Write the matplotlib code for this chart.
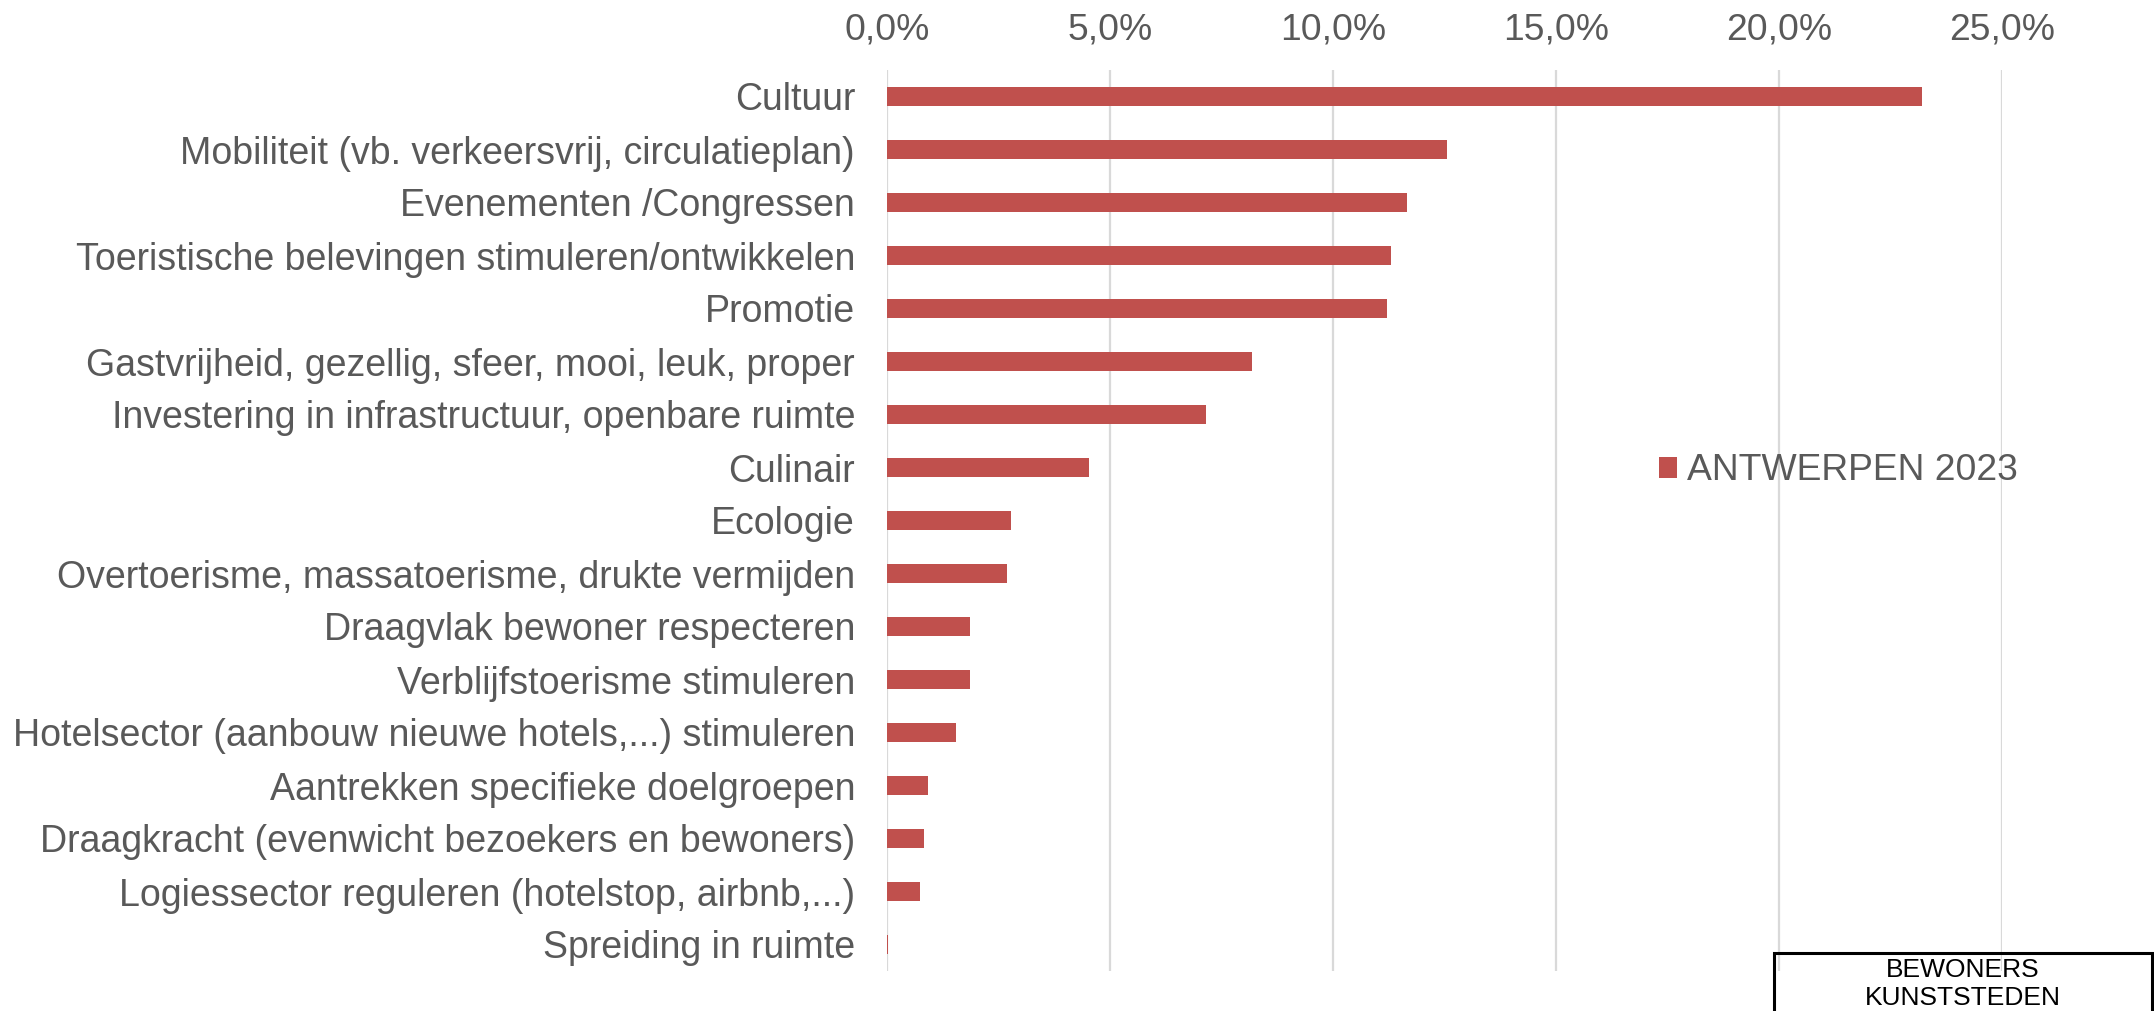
import matplotlib
import numpy as np
from matplotlib import pyplot as plt
from matplotlib.patches import Rectangle
from matplotlib.ticker import FuncFormatter

matplotlib.use("Agg")
plt.rcParams['font.family'] = ['Liberation Sans', 'DejaVu Sans']

# Data
categories = [
    "Cultuur",
    "Mobiliteit (vb. verkeersvrij, circulatieplan)",
    "Evenementen /Congressen",
    "Toeristische belevingen stimuleren/ontwikkelen",
    "Promotie",
    "Gastvrijheid, gezellig, sfeer, mooi, leuk, proper",
    "Investering in infrastructuur, openbare ruimte",
    "Culinair",
    "Ecologie",
    "Overtoerisme, massatoerisme, drukte vermijden",
    "Draagvlak bewoner respecteren",
    "Verblijfstoerisme stimuleren",
    "Hotelsector (aanbouw nieuwe hotels,...) stimuleren",
    "Aantrekken specifieke doelgroepen",
    "Draagkracht (evenwicht bezoekers en bewoners)",
    "Logiessector reguleren (hotelstop, airbnb,...)",
    "Spreiding in ruimte",
]
values = [23.2, 12.55, 11.65, 11.3, 11.2, 8.18, 7.15, 4.52, 2.77, 2.7,
          1.87, 1.86, 1.55, 0.92, 0.83, 0.74, 0.03]
series_name = "ANTWERPEN 2023"
xticks = [0, 5, 10, 15, 20, 25]

W, H = 2154, 1011
fig = plt.figure(figsize=(W / 100, H / 100), dpi=100)
ax = fig.add_axes([887 / W, 1 - 971 / H, (2002 - 887) / W, (971 - 70) / H])

grey = "#595959"
red = "#C0504D"

y = np.arange(len(categories))
bars = ax.barh(y, values, height=0.36, color=red, label=series_name, zorder=3)

ax.set_ylim(len(categories) - 0.5, -0.5)
ax.set_xlim(0, 25)
ax.set_xticks(xticks)
ax.xaxis.set_major_formatter(FuncFormatter(lambda v, p: f"{v:.1f}%".replace(".", ",")))
ax.xaxis.tick_top()
ax.set_yticks(y)
ax.set_yticklabels(categories)

ax.tick_params(axis="x", length=0, pad=16, labelsize=26.8, labelcolor=grey)
ax.tick_params(axis="y", length=0, pad=23, labelsize=27, labelcolor=grey)

for s in ax.spines.values():
    s.set_visible(False)
ax.grid(axis="x", color="#d9d9d9", lw=1.6, zorder=0)

leg = ax.legend(handles=[bars], loc="center left",
                bbox_to_anchor=(1659 / W, 1 - 471 / H),
                bbox_transform=fig.transFigure, frameon=False,
                fontsize=26.8, handlelength=0.48, handleheight=0.48,
                handletextpad=0.28, borderpad=0, borderaxespad=0)
for t in leg.get_texts():
    t.set_color(grey)

# Text box at the bottom right
fig.patches.append(Rectangle((1774 / W, -0.05), (2152 - 1774) / W, 0.05 + 1 - 953 / H,
                             transform=fig.transFigure, fill=False,
                             edgecolor="black", lw=2.2, clip_on=False))
fig.text(1963 / W, 1 - 984 / H, "BEWONERS\nKUNSTSTEDEN", ha="center", va="center",
         fontsize=19, color="black", linespacing=1.25)

fig.savefig("out.png", dpi=100)
